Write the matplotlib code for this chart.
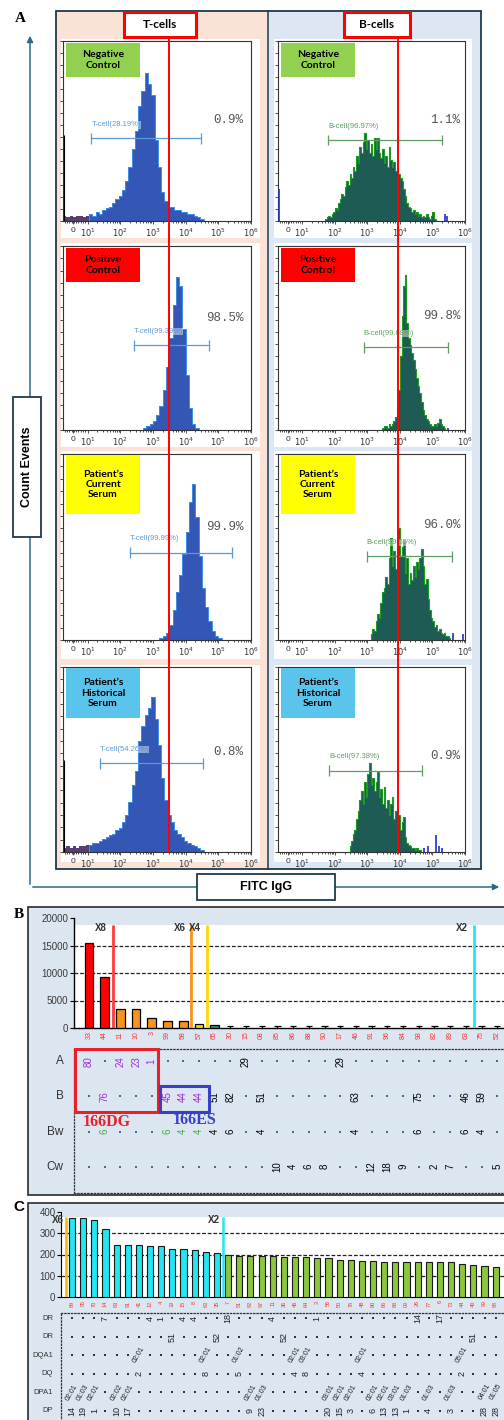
import numpy as np
import matplotlib
matplotlib.use("Agg")
import matplotlib.pyplot as plt
from matplotlib.patches import Rectangle, FancyArrowPatch
from matplotlib.lines import Line2D
from matplotlib.ticker import MultipleLocator, FixedLocator

plt.rcParams['font.family'] = ['Liberation Sans', 'DejaVu Sans']

# ---------------- Panel A: flow crossmatch histograms ----------------
# x = log10(FITC IgG), heights = fraction of plot height
row_labels = ["Negative\nControl", "Positive\nControl",
              "Patient\u2019s\nCurrent\nSerum", "Patient\u2019s\nHistorical\nSerum"]
row_label_colors = ['#92D050', '#FF0000', '#FFFF00', '#5BC4EC']

# T-cells (0.1 decade bins)
t_neg_debris = [.03, .02, .03, .02, .03, .03, .02, .03]
t_neg = [.04, .03, .05, .04, .06, .07, .08, .10, .12, .14, .17, .22, .30, .40, .50, .64, .72,
         .82, .76, .70, .45, .30, .16, .11, .08, .08, .06, .06, .05, .05, .04, .04, .03, .02, .01]
t_pos = [.01, .02, .03, .05, .08, .13, .22, .34, .50, .68, .83, .78, .55, .30, .12, .03, .01]
t_cur = [.01, .02, .04, .08, .16, .26, .35, .46, .58, .74, .84, .66, .45, .28, .18, .10, .05, .02, .01]
t_hist_debris = [.02, .03, .02, .03, .02, .03, .03, .04]
t_hist = [.04, .05, .05, .06, .07, .08, .09, .10, .12, .13, .16, .20, .27, .36, .44, .60, .68, .74,
          .78, .84, .72, .58, .40, .28, .20, .16, .12, .10, .08, .06, .05, .04, .03, .02, .01]
t_starts = [1.05, 2.7, 3.2, 1.05]
t_debris_bar = [0.48, 0, 0, 0.50]

# B-cells (0.05 decade bins)
b_neg = [.01, .02, .03, .02, .04, .05, .07, .06, .10, .12, .15, .14, .19, .22, .20, .26, .24,
         .30, .28, .36, .32, .41, .38, .44, .49, .40, .45, .38, .43, .36, .46, .40, .46, .38,
         .35, .40, .32, .36, .30, .41, .34, .30, .33, .28, .30, .26, .24, .22, .18, .14, .10,
         .08, .07, .05, .06, .04, .05, .03, .04, .02, .03, .02, .04, .02, .01, .03, .05, .01]
b_pos = [.01, .02, .02, .01, .03, .02, .03, .05, .07, .12, .22, .40, .62, .78, .84, .58, .50,
         .46, .42, .38, .33, .28, .24, .20, .15, .11, .08, .06, .05, .03, .02, .02, .03, .02,
         .04, .06, .03, .02, .01]
b_cur = [.03, .06, .05, .10, .14, .12, .20, .26, .28, .34, .30, .44, .55, .40, .48, .38, .52,
         .60, .45, .50, .53, .36, .44, .30, .36, .32, .40, .34, .42, .38, .44, .49, .40, .30,
         .33, .22, .16, .12, .10, .07, .08, .05, .06, .04, .03, .04, .02, .02, .01]
b_hist = [.03, .06, .10, .12, .18, .22, .28, .33, .26, .38, .30, .42, .48, .36, .40, .33, .38,
          .43, .30, .34, .26, .35, .24, .28, .20, .26, .30, .18, .22, .14, .20, .12, .16, .19,
          .08, .05, .04, .03, .02, .02, .01, .02, .01, .01]
b_starts = [1.70, 3.45, 3.10, 2.45]
b_blue_x = [[0.28, 5.40, 5.45], [5.48], [5.62, 5.95], [4.75, 4.85, 5.10, 5.20, 5.30]]
b_blue_h = [[.18, .04, .03], [.01], [.04, .03], [.02, .03, .09, .03, .02]]

t_gate_pct = ["28.19", "99.39", "99.99", "54.26"]
b_gate_pct = ["96.97", "99.68", "99.55", "97.38"]
t_gate_lo = [1.12, 2.41, 2.29, 1.37]
t_gate_hi = [4.47, 4.71, 5.42, 4.53]
t_gate_y = [.46, .46, .47, .48]
b_gate_lo = [1.79, 2.89, 2.98, 1.82]
b_gate_hi = [5.30, 5.48, 5.60, 4.69]
b_gate_y = [.45, .45, .45, .44]
t_positive = ["0.9%", "98.5%", "99.9%", "0.8%"]
b_positive = ["1.1%", "99.8%", "96.0%", "0.9%"]
t_threshold = 3.5
b_threshold = 3.93

# ---------------- Panel B: class I single antigen MFI ----------------
b_alleles = ['33', '44', '11', '10', '3', '99', '58', '57', '65', '30', '15', '08', '85', '86',
             '88', '90', '17', '46', '91', '96', '84', '98', '82', '89', '63', '75', '52']
b_mfi = [15400, 9300, 3500, 3500, 1800, 1200, 1250, 800, 500] + [0] * 18
b_sep_x = [1.5, 6.5, 7.5, 24.5]
b_sep_lab = ['X8', 'X6', 'X4', 'X2']
b_row_names = ['A', 'B', 'Bw', 'Cw']
b_row_A = {0: '80', 2: '24', 3: '23', 4: '1', 10: '29', 16: '29'}
b_row_B = {1: '76', 5: '45', 6: '44', 7: '44', 8: '51', 9: '82', 11: '51', 17: '63', 21: '75',
           24: '46', 25: '59'}
b_row_Bw = {1: '6', 5: '6', 6: '4', 7: '4', 8: '4', 9: '6', 11: '4', 17: '4', 21: '6', 24: '6',
            25: '4'}
b_row_Cw = {12: '10', 13: '4', 14: '6', 15: '8', 18: '12', 19: '18', 20: '9', 22: '2', 23: '7',
            26: '5'}
b_purple = [(0, 0), (0, 2), (0, 3), (0, 4), (1, 1), (1, 5), (1, 6), (1, 7)]
b_green = [(2, 1), (2, 5), (2, 6), (2, 7)]

# ---------------- Panel C: class II single antigen MFI ----------------
c_alleles = ['89', '95', '70', '14', '83', '91', '41', '12', '4', '39', '15', '8', '63', '35',
             '7', '51', '82', '97', '11', '36', '46', '64', '3', '56', '50', '76', '48', '80',
             '86', '88', '09', '26', '77', '6', '73', '44', '40', '99', '98']
c_mfi = [372, 372, 363, 322, 247, 247, 247, 239, 239, 227, 227, 219, 211, 208,
         200, 194, 194, 194, 194, 189, 186, 186, 183, 183, 175, 175, 170, 170, 167, 167,
         167, 167, 167, 163, 163, 156, 152, 147, 142]
c_sep_x = [-0.5, 13.5]
c_sep_lab = ['X6', 'X2']
c_row_names = ['DR', 'DR', 'DQA1', 'DQ', 'DPA1', 'DP']
c_row_DR1 = {3: '7', 7: '4', 8: '1', 10: '4', 11: '4', 14: '18', 18: '4', 22: '1', 31: '14',
             33: '17'}
c_row_DR2 = {9: '51', 13: '52', 19: '52', 36: '51'}
c_row_DQA1 = {6: '02:01', 12: '02:01', 15: '01:02', 20: '02:01', 21: '03:01', 26: '02:01',
              35: '05:01'}
c_row_DQ = {6: '2', 12: '8', 15: '5', 20: '4', 21: '8', 26: '4', 35: '2'}
c_row_DPA1 = {0: '02:01', 1: '01:03', 2: '02:01', 4: '02:02', 5: '02:01', 16: '02:01',
              17: '01:03', 23: '03:01', 24: '02:01', 25: '02:01', 27: '02:01', 28: '02:01',
              29: '03:01', 30: '01:03', 32: '01:03', 34: '01:03', 37: '04:01', 38: '01:05'}
c_row_DP = {0: '14', 1: '19', 2: '1', 4: '10', 5: '17', 16: '9', 17: '23', 23: '20', 24: '15',
            25: '3', 27: '6', 28: '13', 29: '13', 30: '1', 32: '4', 34: '3', 37: '28', 38: '28'}

# ---------------- figure helpers (pixel layout) ----------------
W, H = 504, 1420
fig = plt.figure(figsize=(W / 100, H / 100), dpi=100)


def box(x0, y0, x1, y1):
    return [x0 / W, 1 - y1 / H, (x1 - x0) / W, (y1 - y0) / H]


def frect(x0, y0, x1, y1, **kw):
    fig.add_artist(Rectangle((x0 / W, 1 - y1 / H), (x1 - x0) / W, (y1 - y0) / H,
                             transform=fig.transFigure, **kw))


def ftext(x, y, s, **kw):
    fig.text(x / W, 1 - y / H, s, **kw)


def farrow(p0, p1, color):
    fig.add_artist(FancyArrowPatch((p0[0] / W, 1 - p0[1] / H), (p1[0] / W, 1 - p1[1] / H),
                                   transform=fig.transFigure, arrowstyle='-|>',
                                   mutation_scale=9, color=color, lw=1.1, zorder=1))


frame_col = '#1E3A4C'
arrow_col = '#2C6A8A'

# ---------------- Panel A ----------------
ftext(20, 19, 'A', fontsize=11, fontweight='bold', family='Liberation Serif',
      ha='center', va='center')
frect(56, 11, 268, 869, fc='#FAE2D6', ec='none', zorder=-5)
frect(268, 11, 481, 869, fc='#DCE7F3', ec='none', zorder=-5)
frect(56, 11, 481, 869, fill=False, ec=frame_col, lw=1.3, zorder=-1)
fig.add_artist(Line2D([268 / W, 268 / W], [1 - 11 / H, 1 - 869 / H], transform=fig.transFigure,
                      color=frame_col, lw=1.1, zorder=-1))

for hx0, hx1, htxt in [(124, 196, 'T-cells'), (344, 410, 'B-cells')]:
    frect(hx0, 12, hx1, 37, fc='white', ec='#FF0000', lw=2.2, zorder=5)
    ftext((hx0 + hx1) / 2, 25, htxt, fontsize=8.5, fontweight='bold', family='Lato',
          ha='center', va='center', zorder=6)

col_x_axes = [(63, 251), (278, 465)]
col_x_plate = [(61, 260), (274, 472)]
row_y_axes = [(41, 221), (246, 430), (454, 640), (667, 852)]
row_y_plate = [(39, 238), (243, 447), (451, 659), (665, 862)]
label_box_x = [(66, 140), (281, 355)]
label_box_y = [(43, 77), (248, 282), (455, 514), (668, 718)]
pct_y = [[.56, .61, .61, .54], [.56, .62, .62, .52]]
pct_x = [0.96, 0.975]

t_hists = [t_neg, t_pos, t_cur, t_hist]
t_debris = [t_neg_debris, None, None, t_hist_debris]
b_hists = [b_neg, b_pos, b_cur, b_hist]

dec_ticks = [0.55, 1, 2, 3, 4, 5, 6]
dec_labels = ['0'] + ['$10^{%d}$' % d for d in range(1, 7)]
minor = [d + np.log10(k) for d in range(1, 6) for k in range(2, 10)] + list(np.arange(0.3, 1.0, 0.07))

thr_x = []
for c in range(2):
    for r in range(4):
        px0, px1 = col_x_plate[c]
        py0, py1 = row_y_plate[r]
        frect(px0, py0, px1, py1, fc='white', ec='none', zorder=-2)
        ax = fig.add_axes(box(col_x_axes[c][0], row_y_axes[r][0], col_x_axes[c][1], row_y_axes[r][1]))
        ax.set_xlim(0.25, 6.0)
        ax.set_ylim(0, 1)
        if c == 0:
            vals = t_hists[r]
            edges = t_starts[r] + 0.1 * np.arange(len(vals) + 1)
            ax.stairs(vals, edges, fill=True, color='#3456B4', zorder=2)
            ax.stairs(vals, edges, color='#3C8EE6', lw=0.7, zorder=3)
            if t_debris[r] is not None:
                dv = t_debris[r]
                de = 0.25 + 0.1 * np.arange(len(dv) + 1)
                ax.stairs(dv, de, fill=True, color='#5A3D72', zorder=2)
                ax.vlines(0.27, 0, t_debris_bar[r], color='black', lw=0.8, zorder=3)
            gcol = '#5B9BD5'
            glo, ghi, gy = t_gate_lo[r], t_gate_hi[r], t_gate_y[r]
            gtxt = 'T-cell(%s%%)' % t_gate_pct[r]
            ptxt = t_positive[r]
            thr = t_threshold
        else:
            vals = b_hists[r]
            edges = b_starts[r] + 0.05 * np.arange(len(vals) + 1)
            ax.stairs(vals, edges, fill=True, color='#1E5B55', zorder=2)
            ax.stairs(vals, edges, color='#1C9A24', lw=0.8, zorder=3)
            ax.vlines(b_blue_x[r], 0, b_blue_h[r], color='#1F2FD0', lw=1.2, zorder=3)
            gcol = '#5E9E5E'
            glo, ghi, gy = b_gate_lo[r], b_gate_hi[r], b_gate_y[r]
            gtxt = 'B-cell(%s%%)' % b_gate_pct[r]
            ptxt = b_positive[r]
            thr = b_threshold
        # gate bar with end caps
        ax.plot([glo, ghi], [gy, gy], color=gcol, lw=0.9, zorder=4)
        ax.vlines([glo, ghi], gy - 0.03, gy + 0.03, color=gcol, lw=0.9, zorder=4)
        ax.text(glo, gy + 0.075, gtxt, color=gcol, fontsize=5.5, ha='left', va='center', zorder=5,
                bbox=dict(fc='white', ec='none', alpha=0.45, pad=0.2))
        ax.text(pct_x[c], pct_y[c][r], ptxt, transform=ax.transAxes, fontsize=9,
                family='Liberation Mono', color='#555555', ha='right', va='center', zorder=5)
        ax.set_xticks(dec_ticks, dec_labels)
        ax.xaxis.set_minor_locator(FixedLocator(minor))
        ax.yaxis.set_major_locator(MultipleLocator(1 / 15))
        ax.tick_params(axis='both', which='both', direction='out', width=0.6, colors='#333333',
                       labelsize=6, pad=1.5, length=2.5)
        ax.tick_params(axis='both', which='minor', length=1.5)
        ax.tick_params(axis='y', labelleft=False)
        for sp in ax.spines.values():
            sp.set_linewidth(0.8)
            sp.set_color('#333333')
        # category label box
        lx0, lx1 = label_box_x[c]
        ly0, ly1 = label_box_y[r]
        frect(lx0, ly0, lx1, ly1, fc=row_label_colors[r], ec='none', zorder=5)
        ftext((lx0 + lx1) / 2, (ly0 + ly1) / 2, row_labels[r], fontsize=7.5, fontweight='bold',
              family='Lato', ha='center', va='center', linespacing=1.15, zorder=6)
        if r == 0:
            xd = ax.transData.transform((thr, 0))[0]
            thr_x.append(fig.transFigure.inverted().transform((xd, 0))[0])

# positivity thresholds run through all four rows
for xf in thr_x:
    fig.add_artist(Line2D([xf, xf], [1 - 38 / H, 1 - 852 / H], transform=fig.transFigure,
                          color='#FF0000', lw=1.4, zorder=7))

# axis arrows and their titles
farrow((30, 887), (30, 33), arrow_col)
farrow((30, 887), (502, 887), arrow_col)
frect(13, 397, 41, 537, fc='white', ec=frame_col, lw=1.3, zorder=5)
ftext(27, 467, 'Count Events', rotation=90, fontsize=9, fontweight='bold', ha='center',
      va='center', zorder=6)
frect(197, 874, 335, 900, fc='white', ec=frame_col, lw=1.3, zorder=5)
ftext(266, 887, 'FITC IgG', fontsize=9, fontweight='bold', ha='center', va='center', zorder=6)

# ---------------- Panel B ----------------
ftext(19, 915, 'B', fontsize=11, fontweight='bold', family='Liberation Serif', ha='center', va='center')
frect(28, 907, 560, 1195, fc='#DCE6F0', ec='#2A2A2A', lw=1.2, zorder=-5)

axB = fig.add_axes(box(74, 918, 520, 1028))
axB.set_facecolor('none')
ib = np.arange(len(b_mfi))
b_xlim = (-0.955, 27.45)
axB.set_xlim(*b_xlim)
axB.set_ylim(0, 20000)
b_white = 0.936
axB.add_patch(Rectangle((0, 0), 1, b_white, transform=axB.transAxes, fc='white', ec='none', zorder=0))
axB.hlines([5000, 10000, 15000], *b_xlim, colors='#222222', ls=(0, (3, 1.5)), lw=0.9, zorder=1)
b_cols = ['#FF0000', '#FF0000', '#F7941D', '#F7941D', '#F7941D', '#F7941D', '#F7941D', '#FFD400', '#2E8C86']
b_vals = np.array(b_mfi)
nz = b_vals > 0
axB.bar(ib[nz], b_vals[nz], width=0.55, color=b_cols[:nz.sum()], edgecolor='black', lw=0.9, zorder=3)
zi = ib[~nz]
axB.vlines(zi, 0, 450, color='black', lw=0.9, zorder=3)
axB.hlines(np.full(len(zi), 450), zi - 0.2, zi + 0.2, color='black', lw=0.9, zorder=3)
b_sep_cols = ['#FF3B3B', '#F7941D', '#FFD700', '#22E5F5']
for sx, sl, sc in zip(b_sep_x, b_sep_lab, b_sep_cols):
    axB.vlines(sx, 0, 20000 * b_white, color=sc, lw=2, zorder=4)
    axB.annotate(sl, (sx, 0.91), xycoords=('data', 'axes fraction'), xytext=(-4, 0),
                 textcoords='offset points', ha='right', va='center', fontsize=7,
                 fontweight='bold', color='#333333', zorder=5)
axB.set_yticks([0, 5000, 10000, 15000, 20000])
axB.set_xticks(ib, b_alleles, rotation=90)
axB.tick_params(axis='x', length=0, pad=2.5, labelsize=5, labelcolor='#FF3030')
axB.tick_params(axis='y', length=3, width=0.8, labelsize=7, labelcolor='#3A3A3A', pad=1)
axB.spines[['top', 'right']].set_visible(False)
axB.spines['left'].set_linewidth(1.0)
axB.spines['bottom'].set_linewidth(1.0)

axTB = fig.add_axes(box(74, 1049, 520, 1193))
axTB.set_facecolor('none')
axTB.set_xlim(*b_xlim)
axTB.set_ylim(3.75, -0.35)
axTB.set_xticks([])
axTB.set_yticks([])
for s in ['top', 'left', 'bottom']:
    axTB.spines[s].set_linestyle(':')
    axTB.spines[s].set_color('#333333')
    axTB.spines[s].set_linewidth(0.9)
axTB.spines['right'].set_visible(False)
for r, (name, row) in enumerate(zip(b_row_names, [b_row_A, b_row_B, b_row_Bw, b_row_Cw])):
    axTB.text(-1.6, r, name, ha='right', va='center', fontsize=8.5, color='#333333', clip_on=False)
    dots = [i for i in ib if i not in row]
    axTB.scatter(dots, [r] * len(dots), marker='s', s=2.5, color='#3C6E9E', lw=0, zorder=2)
    for i, lab in row.items():
        col = 'black'
        if (r, i) in b_purple:
            col = '#A02BE0'
        elif (r, i) in b_green:
            col = '#3CB043'
        axTB.text(i, r, lab, rotation=90, ha='center', va='center', fontsize=7, color=col, zorder=3)
axTB.add_patch(Rectangle((-0.9, -0.35), 5.3, 1.8, fill=False, ec='#E8202A', lw=2.2, clip_on=False, zorder=4))
axTB.add_patch(Rectangle((4.52, 0.70), 3.12, 0.75, fill=False, ec='#3A3FC8', lw=2.2, clip_on=False, zorder=4))
axTB.text(-0.38, 1.73, '166DG', color='#E8202A', fontsize=11.5, fontweight='bold',
          family='Liberation Serif', ha='left', va='center')
axTB.text(5.35, 1.67, '166ES', color='#3A3FC8', fontsize=11.5, fontweight='bold',
          family='Liberation Serif', ha='left', va='center')

# ---------------- Panel C ----------------
ftext(19, 1207, 'C', fontsize=11, fontweight='bold', ha='center', va='center')
frect(28, 1203, 560, 1450, fc='#DCE6F0', ec='#2A2A2A', lw=1.2, zorder=-5)

axC = fig.add_axes(box(61, 1212, 520, 1297))
axC.set_facecolor('none')
ic = np.arange(len(c_mfi))
c_xlim = (-0.99, 40.18)
axC.set_xlim(*c_xlim)
axC.set_ylim(0, 400)
c_white = 0.94
axC.add_patch(Rectangle((0, 0), 1, c_white, transform=axC.transAxes, fc='white', ec='none', zorder=0))
axC.hlines([100, 200, 300], *c_xlim, colors='#222222', ls=(0, (3, 1.5)), lw=0.9, zorder=1)
c_cols = ['#22E6F2' if i < c_sep_x[1] else '#8CC63F' for i in ic]
axC.bar(ic, c_mfi, width=0.55, color=c_cols, edgecolor='#1A1A1A', lw=0.8, zorder=3)
c_sep_cols = ['#FFB300', '#22E5F5']
for sx, sl, sc in zip(c_sep_x, c_sep_lab, c_sep_cols):
    axC.vlines(sx, 0, 400 * c_white, color=sc, lw=1.8, zorder=4)
    axC.annotate(sl, (sx, 0.905), xycoords=('data', 'axes fraction'), xytext=(-2, 0),
                 textcoords='offset points', ha='right', va='center', fontsize=7,
                 fontweight='bold', color='#333333', zorder=5, annotation_clip=False)
axC.set_yticks([0, 100, 200, 300, 400])
axC.set_xticks(ic, c_alleles, rotation=90)
axC.tick_params(axis='x', length=0, pad=2.5, labelsize=4, labelcolor='#FF3030')
axC.tick_params(axis='y', length=3, width=0.8, labelsize=7, labelcolor='#3A3A3A', pad=1)
axC.spines[['top', 'right']].set_visible(False)

axTC = fig.add_axes(box(61, 1313, 520, 1432))
axTC.set_facecolor('none')
axTC.set_xlim(*c_xlim)
axTC.set_ylim(6.15, -0.27)
axTC.set_xticks([])
axTC.set_yticks([])
for s in ['top', 'left', 'bottom']:
    axTC.spines[s].set_linestyle(':')
    axTC.spines[s].set_color('#333333')
    axTC.spines[s].set_linewidth(0.9)
axTC.spines['right'].set_visible(False)
c_rows = [c_row_DR1, c_row_DR2, c_row_DQA1, c_row_DQ, c_row_DPA1, c_row_DP]
for r, (name, row) in enumerate(zip(c_row_names, c_rows)):
    axTC.text(-1.7, r, name, ha='right', va='center', fontsize=5.5, color='#333333', clip_on=False)
    dots = [i for i in ic if i not in row]
    axTC.scatter(dots, [r] * len(dots), marker='s', s=1.5, color='#333333', lw=0, zorder=2)
    for i, lab in row.items():
        if ':' in lab:
            axTC.text(i, r, lab, rotation=60, ha='center', va='center', fontsize=5, color='#222222')
        else:
            axTC.text(i, r, lab, rotation=90, ha='center', va='center', fontsize=6.5, color='#222222')

fig.savefig('out.png', dpi=100)
